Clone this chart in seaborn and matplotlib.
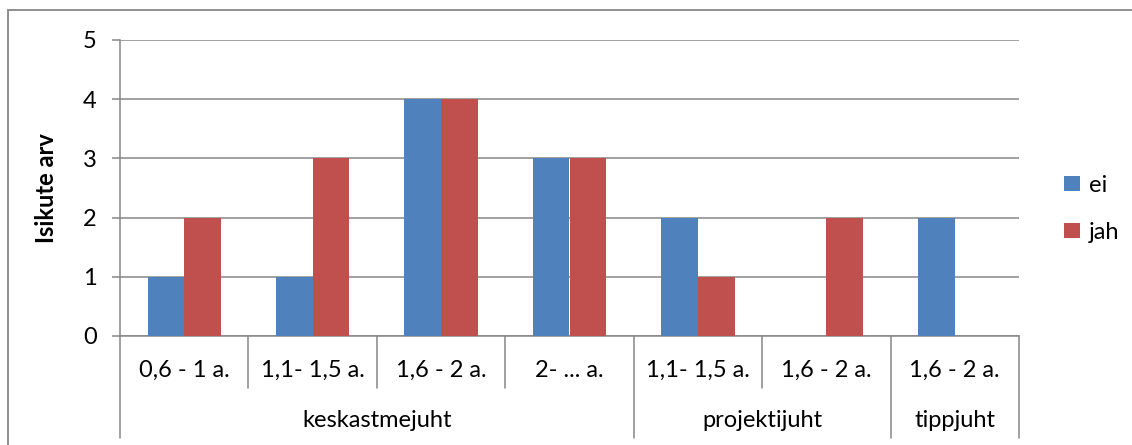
import matplotlib
matplotlib.use("Agg")
import matplotlib.pyplot as plt
import matplotlib.transforms as mtransforms
from matplotlib.patches import Rectangle
import pandas as pd
import seaborn as sns

# Data
periods = ["0,6 - 1 a.", "1,1- 1,5 a.", "1,6 - 2 a.", "2- ... a.",
           "1,1- 1,5 a.", "1,6 - 2 a.", "1,6 - 2 a."]
roles = ["keskastmejuht", "projektijuht", "tippjuht"]
role_sizes = [4, 2, 1]
ei_values = [1, 1, 4, 3, 2, 0, 2]
jah_values = [2, 3, 4, 3, 1, 2, 0]
series_names = ["ei", "jah"]
y_ticks = [0, 1, 2, 3, 4, 5]

colors = {"ei": "#4F81BD", "jah": "#C0504D"}
grid_gray = "#868686"

sns.set_theme(style="white")
plt.rcParams["font.family"] = ["Lato", "DejaVu Sans"]

n = len(periods)
df = pd.DataFrame({
    "pos": list(range(n)) * 2,
    "value": ei_values + jah_values,
    "series": [series_names[0]] * n + [series_names[1]] * n,
})

W, H = 1132, 445
fig = plt.figure(figsize=(W / 100, H / 100), dpi=100)
ax = fig.add_axes([120 / W, 1 - 336 / H, (1019 - 120) / W, (336 - 40) / H])

sns.barplot(data=df, x="pos", y="value", hue="series", order=list(range(n)),
            hue_order=series_names, palette=colors, width=2 / 3.5,
            errorbar=None, linewidth=0, saturation=1, ax=ax, zorder=3)

ax.set_xlim(-0.5, n - 0.5)
ax.set_ylim(0, 5)
ax.set_yticks(y_ticks)
ax.set_yticklabels([str(t) for t in y_ticks])
ax.yaxis.grid(True, color=grid_gray, linewidth=1.1, zorder=0)
ax.set_axisbelow(True)

fs = 17
ax.tick_params(axis="y", which="major", left=True, length=5.8, width=1.1,
               color=grid_gray, pad=11, labelsize=fs, labelcolor="black")
ax.tick_params(axis="x", bottom=False, labelbottom=False)
ax.set_xlabel("")
ax.set_ylabel("Isikute arv", fontsize=fs, fontweight="bold", color="black")
ax.yaxis.set_label_coords(-0.069, 0.5)

for side in ["top", "right"]:
    ax.spines[side].set_visible(False)
for side in ["left", "bottom"]:
    ax.spines[side].set_color(grid_gray)
    ax.spines[side].set_linewidth(1.1)

# Two-level category axis
trans = mtransforms.blended_transform_factory(ax.transData, ax.transAxes)
lvl1_y, lvl2_y = -0.115, -0.287
short_end, long_end = -0.176, -0.345
for i, label in enumerate(periods):
    ax.text(i, lvl1_y, label, transform=trans, ha="center", va="center",
            fontsize=fs, color="black")

boundaries = [-0.5]
for size in role_sizes:
    boundaries.append(boundaries[-1] + size)
group_edges = set(boundaries)
for k in range(n + 1):
    xb = k - 0.5
    end = long_end if xb in group_edges else short_end
    ax.plot([xb, xb], [0, end], transform=trans, color=grid_gray,
            linewidth=1.1, clip_on=False, zorder=1)

for role, start, stop in zip(roles, boundaries[:-1], boundaries[1:]):
    ax.text((start + stop) / 2, lvl2_y, role, transform=trans, ha="center",
            va="center", fontsize=fs, color="black")

# Legend
leg = ax.legend(loc="center left", bbox_to_anchor=(1.04, 0.43), frameon=False,
                fontsize=fs, handlelength=0.65, handleheight=0.65,
                handletextpad=0.4, labelspacing=1.1, borderaxespad=0)
for t in leg.get_texts():
    t.set_color("black")

# Chart frame
fig.patches.append(Rectangle((8 / W, -0.2), 2.0, 1.2 - 10 / H,
                             transform=fig.transFigure, fill=False,
                             edgecolor=grid_gray, linewidth=1.3))

fig.savefig("out.png", dpi=100, facecolor="white")
